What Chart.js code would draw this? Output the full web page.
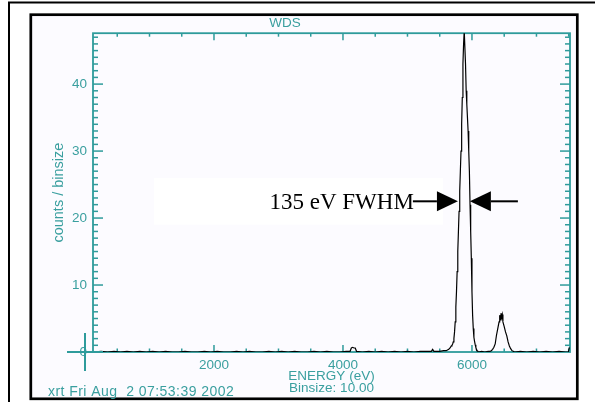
<!DOCTYPE html>
<html>
<head>
<meta charset="utf-8">
<script src="https://cdn.jsdelivr.net/npm/chart.js@4"></script>
<style>
  html, body { margin: 0; padding: 0; background: #fff; }
  canvas { display: block; }
</style>
</head>
<body>
<canvas id="wds" width="595" height="402"></canvas>
<script>
// energy (eV) / counts per bin
const lowBaseline = [
  [130, 0], [250, 0.1], [350, 0], [450, 0.1], [550, 0], [650, 0.1], [750, 0], [850, 0.1],
  [950, 0], [1050, 0.1], [1150, 0], [1250, 0.1], [1350, 0], [1450, 0], [1550, 0.1], [1650, 0],
  [1750, 0], [1850, 0.1], [1950, 0], [2050, 0.1], [2150, 0], [2250, 0], [2350, 0.1], [2450, 0],
  [2550, 0.1], [2650, 0], [2750, 0], [2850, 0.1], [2950, 0], [3050, 0.1], [3150, 0], [3250, 0.1],
  [3350, 0], [3450, 0], [3550, 0.1], [3650, 0], [3750, 0.1], [3850, 0], [3950, 0], [4050, 0.1],
  [4110, 0.1], [4130, 0.6], [4150, 0.7], [4170, 0.6], [4190, 0.6], [4210, 0.1], [4300, 0],
  [4400, 0.1], [4500, 0], [4600, 0.1], [4700, 0], [4800, 0.1], [4900, 0], [5000, 0.1],
  [5100, 0], [5200, 0.1], [5300, 0.1], [5370, 0.1], [5390, 0.4], [5410, 0.1], [5500, 0.1]
];
const kAlpha = [
  [5560, 0.2], [5580, 0.2], [5600, 0.2], [5620, 0.3], [5640, 0.4], [5660, 0.6], [5680, 0.9],
  [5690, 1.0], [5700, 1.2], [5710, 1.5], [5720, 2.0], [5730, 3.0], [5740, 4.5], [5750, 6.7],
  [5760, 9.0], [5770, 12.0], [5780, 15.0], [5790, 18.0], [5800, 21.0], [5810, 24.0],
  [5820, 27.0], [5830, 30.0], [5840, 34.0], [5850, 38.0], [5860, 43.0], [5870, 46.0],
  [5880, 48.0], [5890, 48.0], [5900, 43.0], [5910, 39.0], [5920, 37.0], [5930, 35.0],
  [5940, 33.0], [5950, 30.0], [5960, 27.0], [5970, 22.0], [5980, 18.0], [5990, 14.0],
  [6000, 9.0], [6010, 5.5], [6020, 3.5], [6030, 2.2], [6040, 1.6], [6050, 1.1], [6060, 0.7],
  [6070, 0.4], [6080, 0.2], [6090, 0.1], [6100, 0], [6150, 0.1], [6200, 0], [6250, 0.1]
];
const kBeta = [
  [6280, 0.1], [6300, 0.2], [6320, 0.4], [6340, 0.7], [6360, 1.2], [6380, 2.5], [6400, 3.5],
  [6420, 4.5], [6430, 5.5], [6440, 4.8], [6450, 5.8], [6460, 5.2], [6470, 5.6], [6480, 4.5],
  [6500, 3.8], [6520, 3.0], [6540, 2.4], [6560, 1.5], [6580, 0.9], [6600, 0.5], [6620, 0.2],
  [6640, 0.1], [6660, 0]
];
const highBaseline = [
  [6750, 0.1], [6850, 0], [6950, 0.1], [7050, 0], [7150, 0.1], [7250, 0], [7350, 0.1],
  [7450, 0], [7495, 0], [7510, 0.7]
];

const xTickValues = [2000, 4000, 6000];
const yTickValues = [0, 10, 20, 30, 40];

// FWHM annotation, in data units
const fwhmLabel = '135 eV FWHM';
const fwhmY = 22.5;
const fwhmLeft = [5084, 5782];   // tail, tip
const fwhmRight = [6712, 5968];  // tail, tip
const labelBox = { x0: 1070, x1: 5549, y0: 19.0, y1: 26.0 };

const teal = '#2e9b9b';
const tealText = '#3a9f9f';
const sans = 'Liberation Sans, Arial, sans-serif';

const spectrum = lowBaseline.concat(kAlpha, kBeta, highBaseline).map(([x, y]) => ({ x, y }));

function line(ctx, x1, y1, x2, y2) {
  ctx.beginPath();
  ctx.moveTo(x1, y1);
  ctx.lineTo(x2, y2);
  ctx.stroke();
}

function arrow(ctx, xTail, xTip, y) {
  const dir = xTip > xTail ? 1 : -1;
  const base = xTip - dir * 21;
  ctx.lineWidth = 2;
  line(ctx, xTail, y, base, y);
  ctx.beginPath();
  ctx.moveTo(xTip, y);
  ctx.lineTo(base, y - 10);
  ctx.lineTo(base, y + 10);
  ctx.closePath();
  ctx.fill();
}

const idlFrame = {
  id: 'idlFrame',
  beforeDraw(chart) {
    const ctx = chart.ctx;
    ctx.save();
    ctx.fillStyle = '#fff';
    ctx.fillRect(0, 0, chart.width, chart.height);
    ctx.fillStyle = '#fcfbff';
    ctx.fillRect(30.8, 14.7, 546.5, 384.1);
    ctx.strokeStyle = '#000';
    ctx.lineWidth = 2;
    ctx.strokeRect(9, 2.5, 620, 420);
    ctx.lineWidth = 2.7;
    ctx.strokeRect(30.8, 14.7, 546.5, 384.1);
    ctx.restore();
  },
  beforeDatasetsDraw(chart) {
    const ctx = chart.ctx, xs = chart.scales.x, ys = chart.scales.y, a = chart.chartArea;
    ctx.save();
    // white box behind label
    ctx.fillStyle = '#fff';
    const bx0 = xs.getPixelForValue(labelBox.x0), bx1 = xs.getPixelForValue(labelBox.x1);
    const by0 = ys.getPixelForValue(labelBox.y1), by1 = ys.getPixelForValue(labelBox.y0);
    ctx.fillRect(bx0, by0, bx1 - bx0, by1 - by0);

    // axis box and inward ticks
    ctx.strokeStyle = teal;
    ctx.lineWidth = 1.8;
    ctx.strokeRect(a.left, a.top, a.right - a.left, a.bottom - a.top);
    ctx.lineWidth = 1.5;
    for (let v = 500; v <= 7500; v += 500) {
      const px = xs.getPixelForValue(v);
      const len = xTickValues.includes(v) ? 7 : 3.5;
      line(ctx, px, a.bottom, px, a.bottom - len);
      line(ctx, px, a.top, px, a.top + len);
    }
    for (let v = 1; v <= 47; v++) {
      const py = ys.getPixelForValue(v);
      const len = yTickValues.includes(v) ? 10 : 5;
      line(ctx, a.left, py, a.left + len, py);
      line(ctx, a.right, py, a.right - len, py);
    }
    ctx.restore();
  },
  afterDatasetsDraw(chart) {
    const ctx = chart.ctx, xs = chart.scales.x, ys = chart.scales.y;
    ctx.save();
    // cursor cross at (0, 0)
    const cx = xs.getPixelForValue(0), cy = ys.getPixelForValue(0);
    ctx.strokeStyle = teal;
    ctx.lineWidth = 2;
    line(ctx, cx, cy - 19, cx, cy + 19);
    line(ctx, cx - 18, cy, cx + 18, cy);

    // FWHM arrows and label
    const ay = ys.getPixelForValue(fwhmY);
    ctx.strokeStyle = '#000';
    ctx.fillStyle = '#000';
    arrow(ctx, xs.getPixelForValue(fwhmLeft[0]), xs.getPixelForValue(fwhmLeft[1]), ay);
    arrow(ctx, xs.getPixelForValue(fwhmRight[0]), xs.getPixelForValue(fwhmRight[1]), ay);
    ctx.font = '23px "Liberation Serif", "Times New Roman", serif';
    ctx.textAlign = 'right';
    ctx.textBaseline = 'alphabetic';
    ctx.fillText(fwhmLabel, xs.getPixelForValue(fwhmLeft[0]) + 1, ay + 8);

    // plot stamp
    ctx.fillStyle = tealText;
    ctx.font = '14px ' + sans;
    ctx.letterSpacing = '0.45px';
    ctx.textAlign = 'left';
    ctx.textBaseline = 'middle';
    ctx.fillText('xrt Fri Aug  2 07:53:39 2002', 48, 392);
    ctx.restore();
  }
};

const ctx = document.getElementById('wds').getContext('2d');
new Chart(ctx, {
  type: 'line',
  data: {
    datasets: [{
      data: spectrum,
      borderColor: '#000',
      borderWidth: 1.2,
      pointRadius: 0,
      tension: 0,
      fill: false
    }]
  },
  options: {
    responsive: false,
    animation: false,
    layout: { padding: { top: 0, right: 25, bottom: 0, left: 0 } },
    plugins: {
      legend: { display: false },
      tooltip: { enabled: false },
      title: {
        display: true,
        text: 'WDS',
        color: tealText,
        font: { family: sans, size: 13.5, weight: 'normal' },
        padding: { top: 15, bottom: 2 }
      }
    },
    scales: {
      x: {
        type: 'linear',
        min: 124,
        max: 7520,
        afterBuildTicks: s => { s.ticks = xTickValues.map(v => ({ value: v })); },
        afterFit: s => { s.height = 50; },
        grid: { display: false, tickLength: 0 },
        border: { display: false },
        ticks: {
          color: tealText,
          font: { family: sans, size: 13.5 },
          padding: 5,
          maxRotation: 0,
          autoSkip: false,
          callback: v => String(v)
        },
        title: {
          display: true,
          text: ['ENERGY (eV)', 'Binsize: 10.00'],
          color: tealText,
          font: { family: sans, size: 13.5, lineHeight: '12px' },
          padding: { top: 0, bottom: 8 }
        }
      },
      y: {
        type: 'linear',
        min: 0,
        max: 47.6,
        afterBuildTicks: s => { s.ticks = yTickValues.map(v => ({ value: v })); },
        afterFit: s => { s.width = 93; },
        grid: { display: false, tickLength: 0 },
        border: { display: false },
        ticks: {
          color: tealText,
          font: { family: sans, size: 13.5 },
          padding: 6,
          autoSkip: false,
          callback: v => String(v)
        },
        title: {
          display: true,
          text: 'counts / binsize',
          color: tealText,
          font: { family: sans, size: 14.5 },
          padding: { top: 50, bottom: 0 }
        }
      }
    }
  },
  plugins: [idlFrame]
});
</script>
</body>
</html>
